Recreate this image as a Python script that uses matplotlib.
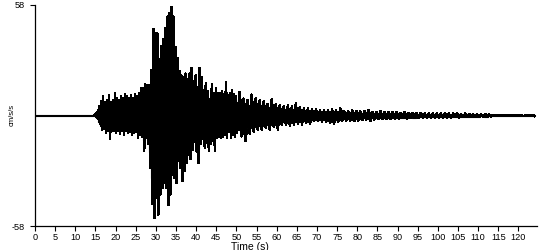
import numpy as np
import matplotlib
matplotlib.use("Agg")
import matplotlib.pyplot as plt

# --- data: envelope of the accelerogram (cm/s/s) ---
pre_t = [0.0, 14.5]
pre_up = [0.35, 0.35]
pre_lo = [-0.35, -0.35]

burst_t = np.arange(15.0, 50.0, 0.5)
burst_up = [0.5, 2, 5, 7.5, 10, 7, 8, 10.5, 7, 8,
            11.5, 9, 8, 10, 9, 11, 10, 9, 10.5, 9,
            11, 10, 12, 14.5, 14.5, 16.5, 16, 16, 24, 45.5,
            43.5, 43, 26, 36.5, 40, 46, 52, 54, 57, 52,
            36, 30, 23.5, 21, 20, 22, 19, 22, 25, 18,
            21, 15, 25, 20, 11, 17, 13, 7, 16.5, 12,
            14.5, 12, 12, 13, 11, 17.5, 10.5, 12, 13.5, 11]
burst_lo = [-0.5, -2, -4.5, -7.5, -7, -9, -8, -12.5, -8, -8,
            -9, -8, -9.5, -8, -10, -8, -9, -8.5, -10, -9,
            -8.5, -11.5, -10, -11, -18.5, -12, -15, -27.5, -46.5, -54,
            -43, -52, -41.5, -38, -35.5, -38, -47, -41.5, -31, -33,
            -35.5, -24, -27.5, -34.5, -29, -25, -20.5, -23, -18, -14,
            -19, -25, -15, -12.5, -17, -14.5, -18.5, -15, -13.5, -18.7,
            -11.5, -11, -12, -11, -10, -11.5, -8.5, -12, -10, -11]

coda_t = np.arange(50, 125, 1.0)
coda_up = [10, 12.5, 9, 8, 11, 9, 8, 7.5, 6, 8.5,
           6, 5.5, 5, 5.5, 5, 6.5, 4.5, 4, 4, 3.5,
           3.5, 3, 3, 3, 3.3, 2.8, 3.8, 2.5, 2.4, 2.6,
           2.4, 2.2, 2.4, 2.8, 2, 2, 2.2, 1.8, 2, 1.7,
           1.8, 1.5, 1.8, 1.5, 1.5, 1.4, 1.5, 1.2, 1.2, 1.2,
           1.1, 1.0, 1.1, 1.0, 1.0, 1.1, 0.9, 1.0, 0.9, 0.8,
           0.7, 0.6, 0.8, 0.5] + [0.35] * 11
coda_lo = [-9, -11, -13.5, -9.5, -8.5, -7.5, -7.5, -6.5, -7.3, -6,
           -7.3, -5, -4.8, -5.5, -4.8, -4.5, -4.7, -3.8, -4.5, -3,
           -3, -3.4, -3.5, -3.8, -4.5, -3.5, -3, -2.8, -2.6, -3,
           -2.6, -2.5, -2.2, -2.8, -2.2, -2, -2, -2, -1.8, -1.6,
           -1.6, -1.5, -1.7, -1.4, -1.5, -1.4, -1.3, -1.2, -1.1, -1.1,
           -1.2, -1.0, -1.0, -1.1, -0.9, -1.0, -0.9, -0.9, -0.8, -0.8,
           -0.9, -0.6, -0.8, -0.5] + [-0.35] * 11

x_ticks = list(range(0, 121, 5))
y_ticks = [-58, 58]

t = np.concatenate([pre_t, burst_t, coda_t])
up = np.concatenate([pre_up, burst_up, coda_up])
lo = np.concatenate([pre_lo, burst_lo, coda_lo])

# zig-zag trace over the event: each sample swings from its positive to its
# negative peak
ev_t = np.concatenate([burst_t, coda_t])
ev_up = np.concatenate([burst_up, coda_up])
ev_lo = np.concatenate([burst_lo, coda_lo])
dt = np.gradient(ev_t)
zx = np.empty(2 * len(ev_t))
zy = np.empty(2 * len(ev_t))
zx[0::2] = ev_t - dt / 4
zx[1::2] = ev_t + dt / 4
zy[0::2] = ev_up
zy[1::2] = ev_lo
zx = np.clip(zx, 0, ev_t[-1])

plt.rcParams['font.family'] = ['Liberation Sans', 'DejaVu Sans']
fig = plt.figure(figsize=(5.5, 2.5), dpi=100)
ax = fig.add_axes([35 / 550, 24 / 250, 502 / 550, 221 / 250])

ax.fill_between(t, 0.7 * lo, 0.7 * up, step='mid', color='black', lw=0.8,
                antialiased=False)
ax.plot(zx, zy, color='black', lw=1.0, antialiased=False)

ax.set_xlim(0, 124.6)
ax.set_ylim(-58, 58)
ax.set_xticks(x_ticks)
ax.set_xticklabels([str(v) for v in x_ticks])
ax.set_yticks(y_ticks)
ax.set_yticklabels([str(v) for v in y_ticks])
for s in ['top', 'right']:
    ax.spines[s].set_visible(False)
for s in ['left', 'bottom']:
    ax.spines[s].set_linewidth(0.9)
ax.tick_params(axis='both', direction='out', length=3.5, width=0.8,
               labelsize=6.6, pad=1.5, colors='black')
ax.tick_params(axis='y', pad=4)

fig.text(12 / 550, 1 - 115 / 250, 'cm/s/s', rotation=90, ha='center',
         va='center', fontsize=5.5)
fig.text(250 / 550, 1 - 241.5 / 250, 'Time (s)', ha='center', va='top',
         fontsize=7.5)

fig.savefig('out.png', dpi=100)
